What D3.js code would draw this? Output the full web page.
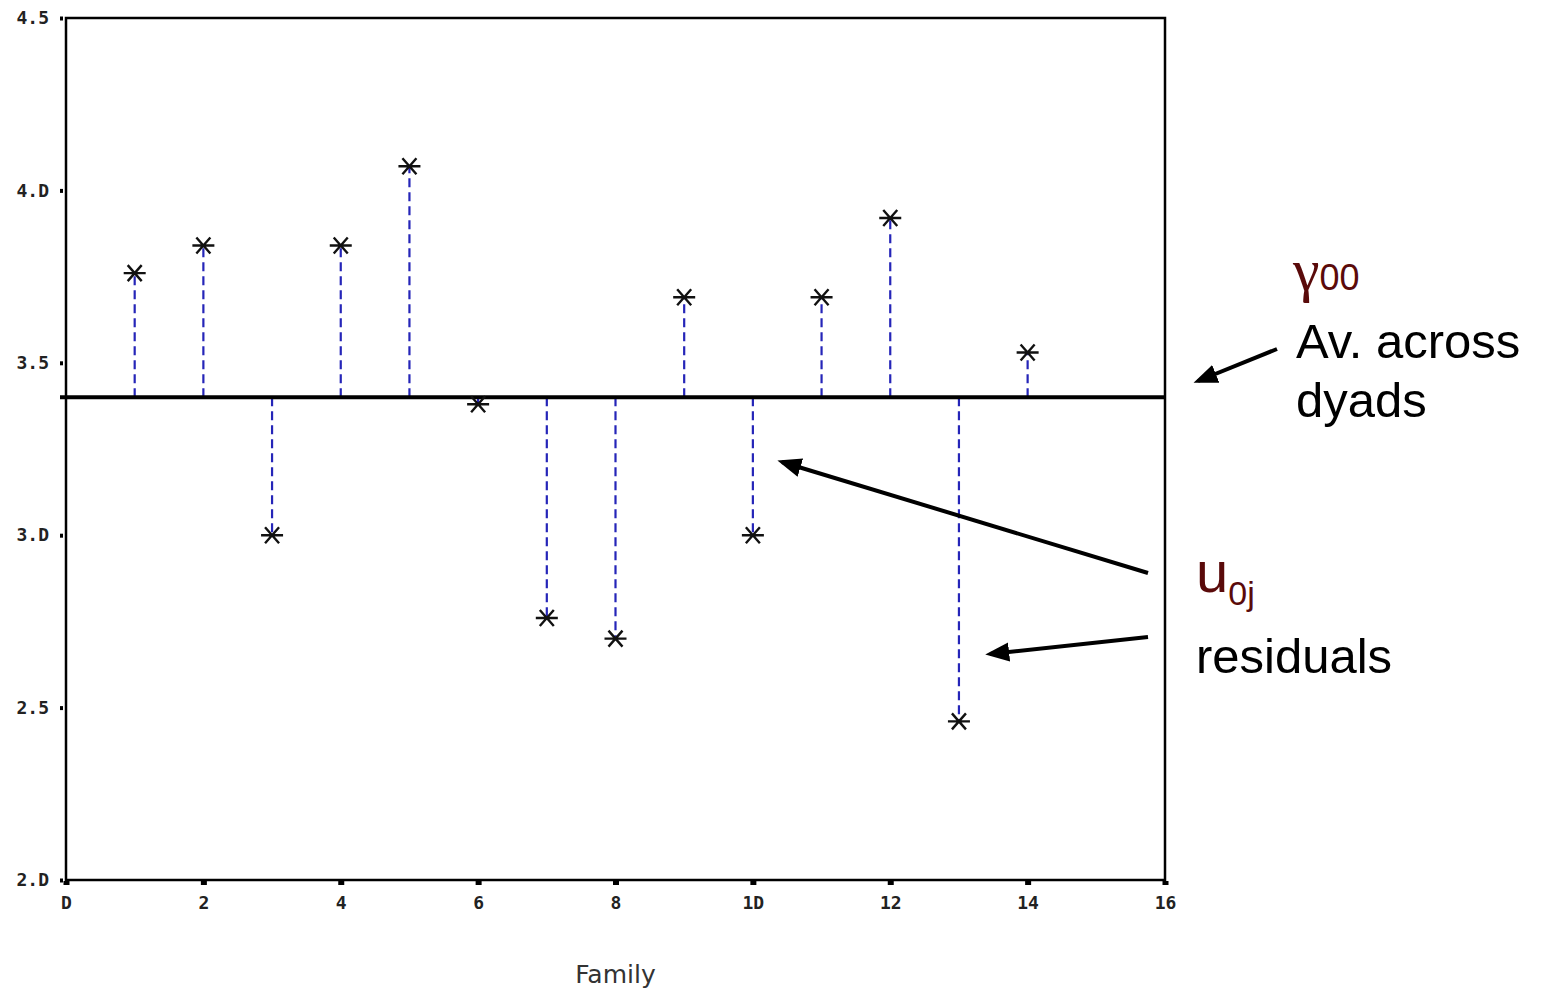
<!DOCTYPE html>
<html>
<head>
<meta charset="utf-8">
<script src="https://cdn.jsdelivr.net/npm/d3@7"></script>
<style>
  body { margin: 0; background: #fff; }
  svg { display: block; }
</style>
</head>
<body>
<svg id="chart" width="1543" height="990"></svg>
<script>
// Family means
var families = [1, 2, 3, 4, 5, 6, 7, 8, 9, 10, 11, 12, 13, 14];
var familyMeans = [3.76, 3.84, 3.00, 3.84, 4.07, 3.38, 2.76, 2.70, 3.69, 3.00, 3.69, 3.92, 2.46, 3.53];
var grandMean = 3.40;

var xTicks = [0, 2, 4, 6, 8, 10, 12, 14, 16];
var yTicks = [2.0, 2.5, 3.0, 3.5, 4.0, 4.5];

var svg = d3.select('#chart');

var plot = {l: 66, r: 1165, t: 18, b: 880};

var xScale = d3.scaleLinear().domain([0, 16]).range([plot.l, plot.r]);
var yScale = d3.scaleLinear().domain([2, 4.5]).range([plot.b, plot.t]);

var data = families.map(function(f, i) { return {family: f, value: familyMeans[i]}; });

svg.append('defs').append('marker')
  .attr('id', 'arrow')
  .attr('viewBox', '0 0 10 10')
  .attr('refX', 8).attr('refY', 5)
  .attr('markerWidth', 6).attr('markerHeight', 6)
  .attr('markerUnits', 'strokeWidth')
  .attr('orient', 'auto')
  .append('path')
  .attr('d', 'M0,1 L10,5 L0,9 Z')
  .attr('fill', '#000');

// y axis
var yAxis = svg.append('g')
  .attr('transform', 'translate(' + plot.l + ',0)')
  .call(d3.axisLeft(yScale).tickValues(yTicks).tickSize(0).tickPadding(17)
    .tickFormat(d3.format('.1f')));
yAxis.select('.domain').remove();
yAxis.selectAll('.tick').append('rect')
  .attr('x', -6).attr('y', -2).attr('width', 3).attr('height', 4)
  .attr('fill', '#000');
yAxis.selectAll('text')
  .attr('font-family', 'DejaVu Sans Mono')
  .attr('font-size', 18)
  .attr('font-weight', 'bold')
  .attr('fill', '#222')
  .text(function(d) { return d.toFixed(1).replace('0', 'D'); });

// x axis
var xAxis = svg.append('g')
  .attr('transform', 'translate(0,' + plot.b + ')')
  .call(d3.axisBottom(xScale).tickValues(xTicks).tickSize(0).tickPadding(16));
xAxis.select('.domain').remove();
xAxis.selectAll('.tick').append('rect')
  .attr('x', -3).attr('y', 1).attr('width', 6).attr('height', 4)
  .attr('fill', '#000');
xAxis.selectAll('text')
  .attr('font-family', 'DejaVu Sans Mono')
  .attr('font-size', 18)
  .attr('font-weight', 'bold')
  .attr('fill', '#222')
  .text(function(d) { return String(d).replace(/0/g, 'D'); });

// frame
svg.append('rect')
  .attr('x', plot.l).attr('y', plot.t)
  .attr('width', plot.r - plot.l).attr('height', plot.b - plot.t)
  .attr('fill', 'none').attr('stroke', '#000').attr('stroke-width', 2.5);

// residual drop lines
svg.append('g').selectAll('line')
  .data(data)
  .enter()
  .append('line')
  .attr('x1', function(d) { return xScale(d.family); })
  .attr('x2', function(d) { return xScale(d.family); })
  .attr('y1', yScale(grandMean))
  .attr('y2', function(d) { return yScale(d.value); })
  .attr('stroke', '#2525b8')
  .attr('stroke-width', 2.2)
  .attr('stroke-dasharray', '9,5');

// grand mean line
svg.append('line')
  .attr('x1', plot.l - 6).attr('x2', plot.r)
  .attr('y1', yScale(grandMean)).attr('y2', yScale(grandMean))
  .attr('stroke', '#000').attr('stroke-width', 4);

// star markers
var stars = svg.append('g').selectAll('g')
  .data(data)
  .enter()
  .append('g')
  .attr('transform', function(d) { return 'translate(' + xScale(d.family) + ',' + yScale(d.value) + ')'; });
stars.append('path')
  .attr('d', 'M-11,0 L11,0 M-7,-8 L7,8 M7,-8 L-7,8')
  .attr('stroke', '#111')
  .attr('stroke-width', 2.4)
  .attr('fill', 'none');

// x label
svg.append('text')
  .attr('x', xScale(8)).attr('y', 983)
  .attr('text-anchor', 'middle')
  .attr('font-family', 'DejaVu Sans')
  .attr('font-size', 25)
  .attr('fill', '#333')
  .text('Family');

// annotations
var gamma = svg.append('text')
  .attr('x', 1293).attr('y', 290)
  .attr('fill', '#5a0a0a');
gamma.append('tspan')
  .attr('font-family', 'Liberation Serif')
  .attr('font-size', 60)
  .text('γ');
gamma.append('tspan')
  .attr('font-family', 'Liberation Sans')
  .attr('font-size', 36)
  .text('00');

svg.append('text')
  .attr('x', 1296).attr('y', 358)
  .attr('font-family', 'Liberation Sans')
  .attr('font-size', 49)
  .attr('fill', '#000')
  .text('Av. across');
svg.append('text')
  .attr('x', 1296).attr('y', 417)
  .attr('font-family', 'Liberation Sans')
  .attr('font-size', 49)
  .attr('fill', '#000')
  .text('dyads');

var u = svg.append('text')
  .attr('x', 1196).attr('y', 592)
  .attr('fill', '#5a0a0a')
  .attr('font-family', 'Liberation Sans');
u.append('tspan').attr('font-size', 58).text('u');
u.append('tspan').attr('dy', 13).attr('font-size', 34).text('0j');

svg.append('text')
  .attr('x', 1196).attr('y', 673)
  .attr('font-family', 'Liberation Sans')
  .attr('font-size', 49)
  .attr('fill', '#000')
  .text('residuals');

var arrows = [
  [1277, 349, 1198, 381],
  [1148, 573, 782, 462],
  [1148, 637, 990, 654]
];
svg.append('g').selectAll('line')
  .data(arrows)
  .enter()
  .append('line')
  .attr('x1', function(d) { return d[0]; })
  .attr('y1', function(d) { return d[1]; })
  .attr('x2', function(d) { return d[2]; })
  .attr('y2', function(d) { return d[3]; })
  .attr('stroke', '#000')
  .attr('stroke-width', 4)
  .attr('marker-end', 'url(#arrow)');
</script>
</body>
</html>
